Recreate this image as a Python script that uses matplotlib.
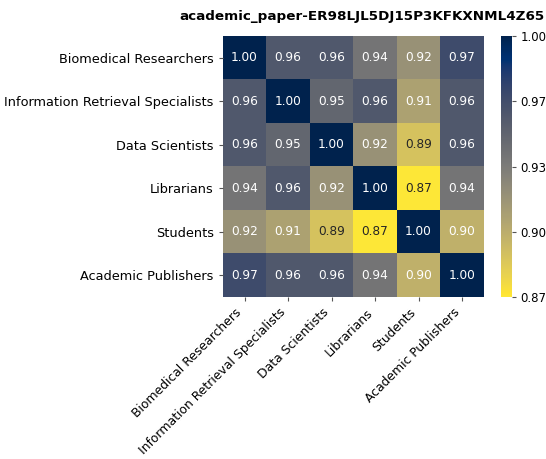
import matplotlib
matplotlib.use("Agg")
import matplotlib.pyplot as plt
import matplotlib.colors as mcolors
import numpy as np

groups = ["Biomedical Researchers", "Information Retrieval Specialists",
          "Data Scientists", "Librarians", "Students", "Academic Publishers"]

biomedical = [1.00, 0.96, 0.96, 0.94, 0.92, 0.97]
retrieval = [0.96, 1.00, 0.95, 0.96, 0.91, 0.96]
data_sci = [0.96, 0.95, 1.00, 0.92, 0.89, 0.96]
librarians = [0.94, 0.96, 0.92, 1.00, 0.87, 0.94]
students = [0.92, 0.91, 0.89, 0.87, 1.00, 0.90]
publishers = [0.97, 0.96, 0.96, 0.94, 0.90, 1.00]

sim = np.array([biomedical, retrieval, data_sci, librarians, students, publishers])
vmin, vmax = sim.min(), sim.max()
cmap = plt.get_cmap("cividis_r")
norm = mcolors.Normalize(vmin=vmin, vmax=vmax)

fig = plt.figure(figsize=(5.46, 4.59), dpi=100)
ax = fig.add_axes([0.408, 0.353, 0.478, 0.568])
cax = fig.add_axes([0.918, 0.353, 0.019, 0.568])

im = ax.imshow(sim, cmap=cmap, norm=norm, aspect="auto", interpolation="nearest")

# cell labels: dark text only on the bright yellow cells
for i in range(sim.shape[0]):
    for j in range(sim.shape[1]):
        color = "#262626" if norm(sim[i, j]) < 0.2 else "white"
        ax.text(j, i, f"{sim[i, j]:.2f}", ha="center", va="center",
                color=color, fontsize=8.7)

n = len(groups)
ax.set_xticks(np.arange(n))
ax.set_yticks(np.arange(n))
ax.set_xticklabels(groups, rotation=45, ha="right", fontsize=8.9)
ax.set_yticklabels(groups, fontsize=9.3)
for s in ax.spines.values():
    s.set_visible(False)
ax.tick_params(length=3, color="#555555")

cb = fig.colorbar(im, cax=cax)
cb.outline.set_visible(False)
ticks = np.linspace(vmin, vmax, 5)
cb.set_ticks(ticks)
cb.set_ticklabels([f"{t - 1e-9:.2f}" for t in ticks])
cb.ax.tick_params(labelsize=8.5, length=3, color="#555555")

fig.text(0.663, 0.963, "academic_paper-ER98LJL5DJ15P3KFKXNML4Z65",
         ha="center", va="center", fontsize=9.7, fontweight="bold")

fig.savefig("out.png", dpi=100)
